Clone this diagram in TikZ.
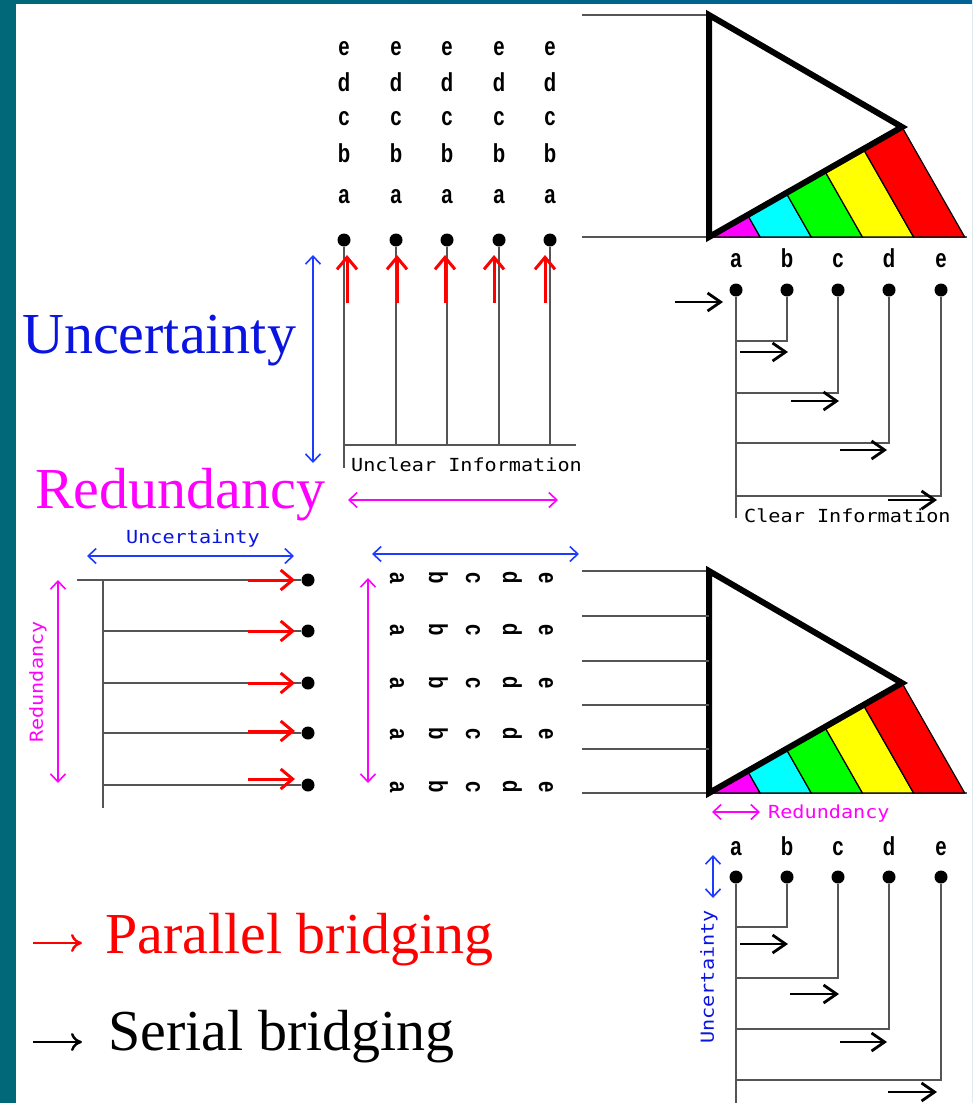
\documentclass[tikz,border=0pt]{standalone}
\usepackage{fontspec}
\setmainfont{Liberation Serif}
\newfontfamily\letterfont[FakeStretch=0.78]{Liberation Sans}
\newfontfamily\sketchfont[FakeStretch=1.12]{DejaVu Sans Mono}
\usetikzlibrary{arrows.meta,calc}

\definecolor{slideteal}{RGB}{0,104,120}
\definecolor{slideblue}{RGB}{0,98,150}
\definecolor{ublue}{RGB}{10,20,225}
\definecolor{arrblue}{RGB}{30,60,255}
\definecolor{mag}{RGB}{255,0,255}
\definecolor{bandmag}{RGB}{255,0,255}
\definecolor{bandcyan}{RGB}{0,255,255}
\definecolor{bandgreen}{RGB}{0,255,0}
\definecolor{bandyellow}{RGB}{255,255,0}
\definecolor{bandred}{RGB}{255,0,0}
\definecolor{pred}{RGB}{255,0,0}
\definecolor{linegray}{RGB}{85,85,85}

\tikzset{
  gline/.style={draw=linegray, line width=2pt},
  dot/.style={circle, fill=black, inner sep=0pt, minimum size=13pt},
  letter/.style={inner sep=0pt, font=\letterfont\bfseries\fontsize{26}{26}\selectfont},
  sketch/.style={inner sep=0pt, font=\sketchfont\fontsize{18}{18}\selectfont},
  bigtext/.style={inner sep=0pt, font=\fontsize{58}{60}\selectfont},
  pbarb/.tip={Straight Barb[length=12pt,width=20pt]},
  sbarb/.tip={Straight Barb[length=13pt,width=18pt]},
  dbarb/.tip={Straight Barb[length=8pt,width=15pt]},
  redarr/.style={draw=pred, line width=3pt, -{pbarb}},
  serarr/.style={draw=black, line width=2.8pt, -{sbarb}},
  bluedbl/.style={draw=arrblue, line width=1.6pt, {dbarb}-{dbarb}},
  magdbl/.style={draw=mag, line width=1.6pt, {dbarb}-{dbarb}},
  keyarr/.style={line width=2.4pt, -{Computer Modern Rightarrow[length=11pt,width=18pt]}},
  prism/.style={draw=black, line width=6pt},
  band/.style={draw=black, line width=1.2pt},
}

\begin{document}
\begin{tikzpicture}[x=1pt,y=-1pt]
\useasboundingbox (0,0) rectangle (972,1103);
% slide frame
\shade[left color=slideteal, right color=slideblue] (0,0) rectangle (972,1103);
\fill[white] (16,4) rectangle (972,1103);

% ---------- big labels
\node[bigtext, text=ublue, anchor=base west] (bigunc) at (22,353) {Uncertainty};
\node[bigtext, text=mag, anchor=base west] (bigred) at (35,508) {Redundancy};

% ---------- unclear information: parallel columns
\foreach \x/\dx [count=\i] in {344/3,396/1,447/-2,499/-5,550/-5} {
  \node[dot] (u\i) at (\x,240) {};
  \coordinate (ub\i) at (\x,445);
  \draw[gline] (u\i) -- (ub\i);
  \coordinate (ua\i) at ({\x+(\dx)},303);
  \coordinate (uh\i) at ({\x+(\dx)},255);
  \draw[redarr] (ua\i) -- (uh\i);
  \foreach \l/\y in {e/55,d/91,c/125,b/162,a/203}
    \node[letter, anchor=base] (u\i\l) at (\x,\y) {\l};
}
\coordinate (ubend) at (576,445);
\coordinate (ubtail) at (344,468);
\draw[gline] (ub1) -- (ubend);
\draw[gline] (ub1) -- (ubtail);
\node[sketch, anchor=base west] (unclear) at (351,471) {Unclear Information};

\coordinate (uv1) at (313,255);
\coordinate (uv2) at (313,463);
\draw[bluedbl] (uv1) -- (uv2);
\coordinate (rh1) at (348,500);
\coordinate (rh2) at (558,500);
\draw[magdbl] (rh1) -- (rh2);

% ---------- prisms
\foreach \off/\p in {0/t,556/m} {
  \coordinate (apex\p) at (709,{15+\off});
  \coordinate (A\p) at (709,{237+\off});
  \coordinate (B\p) at (902,{127+\off});
  \coordinate (L\p) at (582,{237+\off});
  \coordinate (R\p) at (967,{237+\off});
  \coordinate (T\p) at (582,{15+\off});
  \draw[gline] (L\p) -- (R\p);
  \draw[gline] (T\p) -- (apex\p);
  \foreach \col [count=\k] in {bandmag,bandcyan,bandgreen,bandyellow,bandred} {
    \pgfmathsetmacro\ta{(\k-1)*0.2}
    \pgfmathsetmacro\tb{\k*0.2}
    \filldraw[band, fill=\col]
      ($(A\p)!\ta!(B\p)$) -- ($(A\p)!\tb!(B\p)$)
      -- ({709+255.7*\tb},{237+\off}) -- ({709+255.7*\ta},{237+\off}) -- cycle;
  }
  \draw[prism] (apex\p) -- (B\p) -- (A\p) -- cycle;
}
% extra beams entering the lower prism
\foreach \y in {616,661,705,749} {
  \coordinate (hl\y) at (582,\y);
  \coordinate (hr\y) at (709,\y);
  \draw[gline] (hl\y) -- (hr\y);
}

% ---------- clear information: serial branches (upper)
\foreach \x/\l [count=\i] in {736/a,787/b,838/c,889/d,941/e} {
  \node[letter, anchor=base] (tl\l) at (\x,267) {\l};
  \node[dot] (s\i) at (\x,290) {};
  \node[letter, anchor=base] (bl\l) at (\x,855) {\l};
  \node[dot] (r\i) at (\x,877) {};
}
\coordinate (send) at (736,518);
\draw[gline] (s1) -- (send);
\foreach \k/\y in {2/341,3/393,4/443,5/496} {
  \coordinate (sj\k) at (736,\y);
  \draw[gline] (s\k) |- (sj\k);
}
\foreach \a/\b/\y [count=\k] in {740/788/352,791/839/401,840/887/450,888/937/500} {
  \coordinate (sa\k) at (\a,\y);
  \coordinate (sb\k) at (\b,\y);
  \draw[serarr] (sa\k) -- (sb\k);
}
\coordinate (sin1) at (675,302);
\coordinate (sin2) at (723,302);
\draw[serarr] (sin1) -- (sin2);
\node[sketch, anchor=base west] (clear) at (744,522) {Clear Information};

% ---------- serial branches (lower)
\coordinate (rend) at (736,1103);
\draw[gline] (r1) -- (rend);
\foreach \k/\y in {2/927,3/978,4/1029,5/1080} {
  \coordinate (rj\k) at (736,\y);
  \draw[gline] (r\k) |- (rj\k);
}
\foreach \a/\b/\y [count=\k] in {740/788/944,790/839/994,840/887/1042,888/937/1092} {
  \coordinate (ra\k) at (\a,\y);
  \coordinate (rb\k) at (\b,\y);
  \draw[serarr] (ra\k) -- (rb\k);
}
\coordinate (bm1) at (712,812);
\coordinate (bm2) at (760,812);
\draw[magdbl] (bm1) -- (bm2);
\node[sketch, text=mag, anchor=base west] (redsmall2) at (768,818) {Redundancy};
\coordinate (bu1) at (713,855);
\coordinate (bu2) at (713,898);
\draw[bluedbl] (bu1) -- (bu2);
\node[sketch, text=ublue, rotate=90] (uncrot2) at (709,977) {Uncertainty};

% ---------- parallel bridging (middle left)
\node[sketch, text=ublue, anchor=base west] (uncsmall) at (126,543) {Uncertainty};
\coordinate (lu1) at (87,556);
\coordinate (lu2) at (294,556);
\draw[bluedbl] (lu1) -- (lu2);
\foreach \y [count=\i] in {580,631,683,733,785}
  \node[dot] (p\i) at (308,\y) {};
\coordinate (pv1) at (103,580);
\coordinate (pv2) at (103,808);
\draw[gline] (pv1) -- (pv2);
\coordinate (ptop) at (77,580);
\draw[gline] (ptop) -- (p1);
\foreach \k/\y in {2/631,3/683,4/733,5/785} {
  \coordinate (pj\k) at (103,\y);
  \draw[gline] (pj\k) -- (p\k);
}
\foreach \y [count=\k] in {580,631,683,731,779} {
  \coordinate (pa\k) at (248,\y);
  \coordinate (pb\k) at (295,\y);
  \draw[redarr] (pa\k) -- (pb\k);
}
\coordinate (lm1) at (58,580);
\coordinate (lm2) at (58,783);
\draw[magdbl] (lm1) -- (lm2);
\node[sketch, text=mag, rotate=90] (redrot) at (38,682) {Redundancy};

% ---------- rotated letter grid (middle)
\coordinate (cu1) at (372,554);
\coordinate (cu2) at (579,554);
\draw[bluedbl] (cu1) -- (cu2);
\coordinate (cm1) at (368,578);
\coordinate (cm2) at (368,783);
\draw[magdbl] (cm1) -- (cm2);
\foreach \y [count=\r] in {578,630,683,734,787}
  \foreach \x/\l in {390/a,429/b,466/c,503/d,539/e}
    \node[letter, rotate=-90, anchor=base] (q\r\l) at (\x,\y) {\l};

% ---------- legend
\coordinate (k1a) at (33,943);
\coordinate (k1b) at (82,943);
\draw[keyarr, draw=pred] (k1a) -- (k1b);
\node[bigtext, text=pred, anchor=base west] (par) at (105,953) {Parallel bridging};
\coordinate (k2a) at (33,1042);
\coordinate (k2b) at (82,1042);
\draw[keyarr, draw=black] (k2a) -- (k2b);
\node[bigtext, text=black, anchor=base west] (ser) at (108,1050) {Serial bridging};
\end{tikzpicture}
\end{document}
